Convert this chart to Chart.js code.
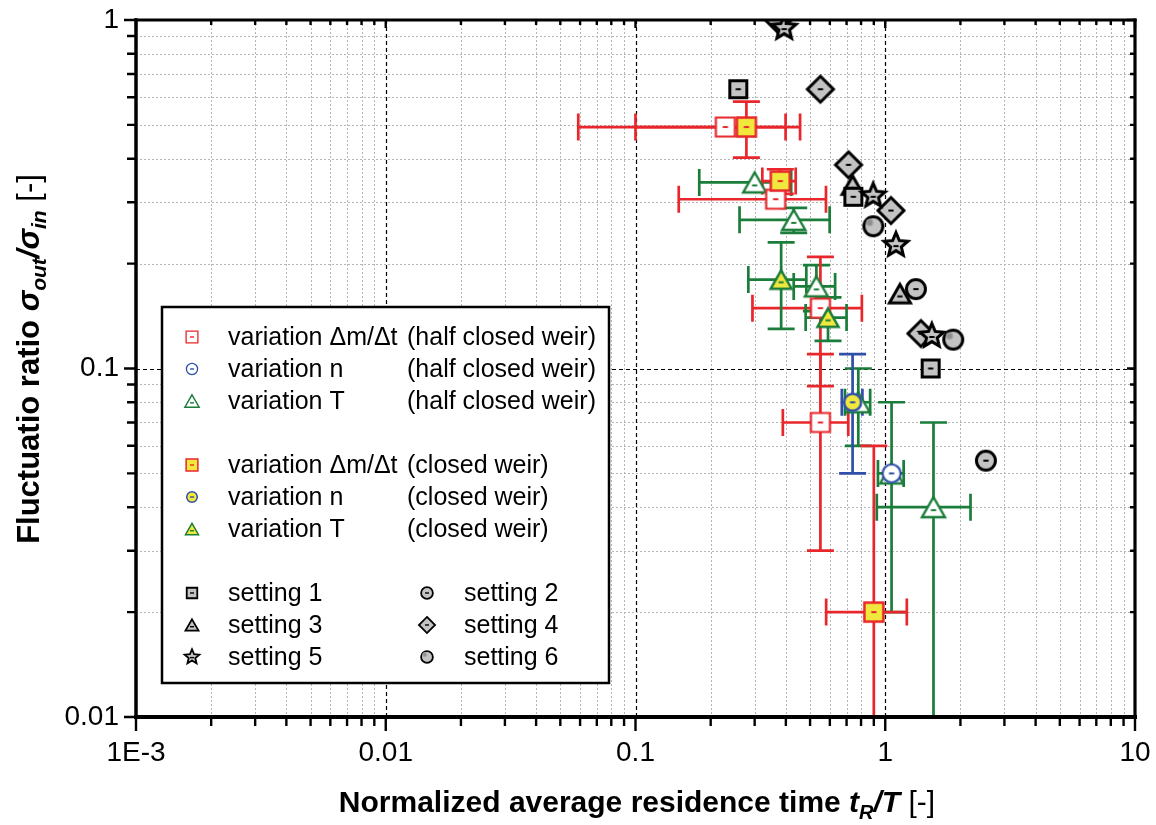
<!DOCTYPE html>
<html>
<head>
<meta charset="utf-8">
<script src="https://cdn.jsdelivr.net/npm/chart.js@4.4.1/dist/chart.umd.min.js"></script>
<style>
  html, body { margin: 0; padding: 0; background: #fff; }
  #wrap { width: 1156px; height: 825px; position: relative; }
</style>
</head>
<body>
<div id="wrap"><canvas id="chart" width="1156" height="825"></canvas></div>
<script>
// ---- measured series: x = tR/T, y = sigma_out/sigma_in, symmetric error half-widths ----
const dmHalfX    = [0.229, 0.364, 0.55, 0.55];
const dmHalfY    = [0.493, 0.306, 0.149, 0.070];
const dmHalfXErr = [0.17, 0.215, 0.256, 0.161];
const dmHalfYErr = [0, 0, 0.06, 0.04];

const nHalfX    = [1.06];
const nHalfY    = [0.05];
const nHalfXErr = [0];
const nHalfYErr = [0];

const tHalfX    = [0.30, 0.43, 0.53, 0.78, 1.06, 1.56];
const tHalfY    = [0.342, 0.267, 0.172, 0.08, 0.05, 0.04];
const tHalfXErr = [0.12, 0.169, 0.10, 0.09, 0.125, 0.635];
const tHalfYErr = [0, 0.022, 0.026, 0.02, 0.03, 0.03];

const dmClosedX    = [0.278, 0.38, 0.90];
const dmClosedY    = [0.493, 0.345, 0.02];
const dmClosedXErr = [0.178, 0.058, 0.32];
const dmClosedYErr = [0.09, 0.028, 0.04];

const nClosedX    = [0.74];
const nClosedY    = [0.08];
const nClosedXErr = [0.07];
const nClosedYErr = [0.03];

const tClosedX    = [0.383, 0.59];
const tClosedY    = [0.18, 0.14];
const tClosedXErr = [0.10, 0.11];
const tClosedYErr = [0.05, 0.02];

// reference settings (no error bars)
const s1X = [0.258, 0.745, 1.52];          const s1Y = [0.633, 0.311, 0.100];
const s2X = [1.327, 2.53];                 const s2Y = [0.169, 0.0544];
const s3X = [0.740, 1.145];                const s3Y = [0.336, 0.164];
const s4X = [0.373, 0.550, 0.713, 1.054, 1.389]; const s4Y = [1.0, 0.633, 0.384, 0.284, 0.126];
const s5X = [0.394, 0.895, 1.104, 1.537];  const s5Y = [0.948, 0.313, 0.226, 0.124];
const s6X = [0.896, 1.871];                const s6Y = [0.256, 0.121];

// axis ticks
const xTickValues = [0.001, 0.01, 0.1, 1, 10];
const xTickLabels = ['1E-3', '0.01', '0.1', '1', '10'];
const yTickValues = [0.01, 0.1, 1];
const yTickLabels = ['0.01', '0.1', '1'];

// ---- styling ----
const FONT = '"Liberation Sans", Arial, Helvetica, sans-serif';
const RED = '#e8262b', GREEN = '#1b7d3a', BLUE = '#2f4fa8', YELLOW = '#f0e83c', GREY = '#c3c3c3';

const markerSpecs = {
  dmHalf:   { shape: 'square',   size: 19, fill: '#fff',  stroke: RED,   lw: 2.2 },
  nHalf:    { shape: 'circle',   size: 18, fill: '#fff',  stroke: BLUE,  lw: 2.2 },
  tHalf:    { shape: 'triangle', size: 23, fill: '#fff',  stroke: GREEN, lw: 2.4 },
  dmClosed: { shape: 'square',   size: 19, fill: YELLOW,  stroke: RED,   lw: 2.5 },
  nClosed:  { shape: 'circle',   size: 17, fill: YELLOW,  stroke: BLUE,  lw: 2.5 },
  tClosed:  { shape: 'triangle', size: 21, fill: YELLOW,  stroke: GREEN, lw: 2.5 },
  s1: { shape: 'square',   size: 17, fill: GREY, stroke: '#000', lw: 3 },
  s2: { shape: 'circle',   size: 19, fill: GREY, stroke: '#000', lw: 3 },
  s3: { shape: 'triangle', size: 21, fill: GREY, stroke: '#000', lw: 3 },
  s4: { shape: 'diamond',  size: 26, fill: GREY, stroke: '#000', lw: 3 },
  s5: { shape: 'star',     size: 25, fill: GREY, stroke: '#000', lw: 3 },
  s6: { shape: 'circle',   size: 19, fill: GREY, stroke: '#000', lw: 3, highlight: true }
};

function makeMarker(spec, scale) {
  const h = spec.size * scale / 2;
  const lw = spec.lw * (scale < 1 ? 0.6 : 1);
  let ext = Math.ceil(spec.size * scale + lw * 2 + 10);
  if (ext % 2) ext++;
  const cv = document.createElement('canvas');
  cv.width = ext; cv.height = ext;
  const c = cv.getContext('2d');
  c.translate(ext / 2, ext / 2);
  c.beginPath();
  let dashY = 0;
  switch (spec.shape) {
    case 'square': c.rect(-h, -h, 2 * h, 2 * h); break;
    case 'circle': c.arc(0, 0, h, 0, Math.PI * 2); break;
    case 'triangle': {
      const hh = h * 0.87;
      c.moveTo(0, -hh); c.lineTo(h, hh); c.lineTo(-h, hh); c.closePath();
      dashY = hh * 0.3;
      break;
    }
    case 'diamond':
      c.moveTo(0, -h); c.lineTo(h, 0); c.lineTo(0, h); c.lineTo(-h, 0); c.closePath();
      break;
    case 'star':
      for (let i = 0; i < 10; i++) {
        const a = -Math.PI / 2 + i * Math.PI / 5;
        const r = (i % 2) ? h * 0.45 : h;
        c.lineTo(r * Math.cos(a), r * Math.sin(a));
      }
      c.closePath();
      dashY = h * 0.08;
      break;
  }
  c.fillStyle = spec.fill;
  c.fill();
  c.lineJoin = 'miter';
  c.miterLimit = 4;
  c.lineWidth = lw;
  c.strokeStyle = spec.stroke;
  c.stroke();
  if (spec.highlight) {
    c.beginPath();
    c.arc(-h * 0.38, -h * 0.38, h * 0.36, 0, Math.PI * 2);
    c.fillStyle = '#8f8f8f';
    c.fill();
    c.lineWidth = 1;
    c.strokeStyle = '#b0b0b0';
    c.stroke();
  } else {
    const dl = Math.max(2, 2.6 * scale);
    c.beginPath();
    c.moveTo(-dl, dashY); c.lineTo(dl, dashY);
    c.lineWidth = scale < 1 ? 1.4 : 2;
    c.strokeStyle = spec.stroke;
    c.stroke();
  }
  return cv;
}

const plotMarkers = {}, legendMarkers = {};
Object.keys(markerSpecs).forEach(k => {
  plotMarkers[k] = makeMarker(markerSpecs[k], 1);
  legendMarkers[k] = makeMarker(markerSpecs[k], 0.62);
});

function pts(xs, ys) { return xs.map((x, i) => ({ x: x, y: ys[i] })); }

function series(key, label, xs, ys, ex, ey, errColor) {
  return {
    key: key, label: label,
    data: pts(xs, ys),
    errX: ex, errY: ey, errColor: errColor,
    pointStyle: plotMarkers[key],
    pointRadius: 11, pointHoverRadius: 11,
    clip: 0
  };
}

// listed bottom-to-top; Chart.js paints the first dataset last, so the list is reversed
const datasets = [
  series('tHalf', 'variation T (half closed weir)', tHalfX, tHalfY, tHalfXErr, tHalfYErr, GREEN),
  series('dmHalf', 'variation \u0394m/\u0394t (half closed weir)', dmHalfX, dmHalfY, dmHalfXErr, dmHalfYErr, RED),
  series('nHalf', 'variation n (half closed weir)', nHalfX, nHalfY, nHalfXErr, nHalfYErr, BLUE),
  series('tClosed', 'variation T (closed weir)', tClosedX, tClosedY, tClosedXErr, tClosedYErr, GREEN),
  series('dmClosed', 'variation \u0394m/\u0394t (closed weir)', dmClosedX, dmClosedY, dmClosedXErr, dmClosedYErr, RED),
  series('nClosed', 'variation n (closed weir)', nClosedX, nClosedY, nClosedXErr, nClosedYErr, BLUE),
  series('s3', 'setting 3', s3X, s3Y),
  series('s1', 'setting 1', s1X, s1Y),
  series('s2', 'setting 2', s2X, s2Y),
  series('s4', 'setting 4', s4X, s4Y),
  series('s5', 'setting 5', s5X, s5Y),
  series('s6', 'setting 6', s6X, s6Y)
].reverse();

function decadeValues(minExp, maxExp) {
  const minor = [], major = [];
  for (let d = minExp; d <= maxExp; d++) {
    major.push(Math.pow(10, d));
    if (d < maxExp) for (let k = 2; k <= 9; k++) minor.push(k * Math.pow(10, d));
  }
  return { minor, major };
}
const xLines = decadeValues(-3, 1);
const yLines = decadeValues(-2, 0);

// dotted minor grid and dashed decade grid inside the plot
const gridPlugin = {
  id: 'logGrid',
  beforeDatasetsDraw(chart) {
    const { ctx, chartArea: a, scales: { x, y } } = chart;
    ctx.save();
    ctx.lineWidth = 1;
    ctx.strokeStyle = '#b4b4b4';
    ctx.setLineDash([2, 2]);
    ctx.beginPath();
    xLines.minor.forEach(v => { const p = Math.round(x.getPixelForValue(v)) + 0.5; ctx.moveTo(p, a.top); ctx.lineTo(p, a.bottom); });
    yLines.minor.forEach(v => { const p = Math.round(y.getPixelForValue(v)) + 0.5; ctx.moveTo(a.left, p); ctx.lineTo(a.right, p); });
    ctx.stroke();
    ctx.strokeStyle = '#000';
    ctx.lineWidth = 1.2;
    ctx.setLineDash([4, 3]);
    ctx.beginPath();
    xLines.major.slice(1, -1).forEach(v => { const p = Math.round(x.getPixelForValue(v)) + 0.5; ctx.moveTo(p, a.top); ctx.lineTo(p, a.bottom); });
    yLines.major.slice(1, -1).forEach(v => { const p = Math.round(y.getPixelForValue(v)) + 0.5; ctx.moveTo(a.left, p); ctx.lineTo(a.right, p); });
    ctx.stroke();
    ctx.restore();
  }
};

// symmetric error bars with caps, beneath all markers (drawn in list order)
const errorBarPlugin = {
  id: 'errorBars',
  beforeDatasetsDraw(chart) {
    const { ctx, chartArea: a, scales: { x: xs, y: ys } } = chart;
    const cap = 13.5;
    ctx.save();
    ctx.beginPath();
    ctx.rect(a.left, a.top, a.right - a.left, a.bottom - a.top);
    ctx.clip();
    ctx.lineWidth = 2.7;
    ctx.lineCap = 'butt';
    ctx.setLineDash([]);
    chart.data.datasets.slice().reverse().forEach(ds => {
      if (!ds.errX) return;
      ctx.strokeStyle = ds.errColor;
      ds.data.forEach((p, i) => {
        const px = xs.getPixelForValue(p.x), py = ys.getPixelForValue(p.y);
        const dx = ds.errX[i], dy = ds.errY[i];
        ctx.beginPath();
        if (dx > 0) {
          const lo = p.x - dx, hi = p.x + dx;
          const l = lo > 0 ? xs.getPixelForValue(lo) : a.left;
          const r = xs.getPixelForValue(hi);
          ctx.moveTo(l, py); ctx.lineTo(r, py);
          if (lo > 0) { ctx.moveTo(l, py - cap); ctx.lineTo(l, py + cap); }
          ctx.moveTo(r, py - cap); ctx.lineTo(r, py + cap);
        }
        if (dy > 0) {
          const lo = p.y - dy, hi = p.y + dy;
          const b = lo > 0 ? ys.getPixelForValue(lo) : a.bottom + 5;
          const t = ys.getPixelForValue(hi);
          ctx.moveTo(px, b); ctx.lineTo(px, t);
          if (lo > 0) { ctx.moveTo(px - cap, b); ctx.lineTo(px + cap, b); }
          ctx.moveTo(px - cap, t); ctx.lineTo(px + cap, t);
        }
        ctx.stroke();
      });
    });
    ctx.restore();
  }
};

// heavy frame with outward ticks on bottom/left and small inward ticks on top/right
const framePlugin = {
  id: 'frame',
  afterDatasetsDraw(chart) {
    const { ctx, chartArea: a, scales: { x, y } } = chart;
    ctx.save();
    ctx.setLineDash([]);
    ctx.strokeStyle = '#000';
    ctx.lineWidth = 2.4;
    ctx.beginPath();
    xLines.minor.forEach(v => {
      const p = x.getPixelForValue(v);
      ctx.moveTo(p, a.bottom); ctx.lineTo(p, a.bottom + 9);
      ctx.moveTo(p, a.top); ctx.lineTo(p, a.top + 5);
    });
    xLines.major.forEach(v => {
      const p = x.getPixelForValue(v);
      ctx.moveTo(p, a.bottom); ctx.lineTo(p, a.bottom + 14);
      ctx.moveTo(p, a.top); ctx.lineTo(p, a.top + 8);
    });
    yLines.minor.forEach(v => {
      const p = y.getPixelForValue(v);
      ctx.moveTo(a.left, p); ctx.lineTo(a.left - 9, p);
      ctx.moveTo(a.right, p); ctx.lineTo(a.right - 5, p);
    });
    yLines.major.forEach(v => {
      const p = y.getPixelForValue(v);
      ctx.moveTo(a.left, p); ctx.lineTo(a.left - 12, p);
      ctx.moveTo(a.right, p); ctx.lineTo(a.right - 8, p);
    });
    ctx.stroke();
    ctx.lineCap = 'square';
    ctx.lineWidth = 3.5;
    ctx.beginPath(); ctx.moveTo(a.left, a.top); ctx.lineTo(a.left, a.bottom); ctx.stroke();
    ctx.lineWidth = 4;
    ctx.beginPath(); ctx.moveTo(a.left, a.bottom); ctx.lineTo(a.right, a.bottom); ctx.stroke();
    ctx.lineWidth = 3.2;
    ctx.beginPath(); ctx.moveTo(a.left, a.top); ctx.lineTo(a.right, a.top); ctx.stroke();
    ctx.beginPath(); ctx.moveTo(a.right, a.top); ctx.lineTo(a.right, a.bottom); ctx.stroke();
    ctx.restore();
  }
};

function drawRich(ctx, segs, x, y) {
  const widths = segs.map(s => { ctx.font = s.font; return ctx.measureText(s.t).width; });
  const total = widths.reduce((p, w) => p + w, 0);
  let cx = x - total / 2;
  segs.forEach((s, i) => {
    ctx.font = s.font;
    ctx.fillText(s.t, cx, y + (s.dy || 0));
    cx += widths[i];
  });
}

// axis titles with italic symbols and subscripts
const titlePlugin = {
  id: 'axisTitles',
  afterDraw(chart) {
    const { ctx } = chart;
    ctx.save();
    ctx.fillStyle = '#000';
    ctx.textBaseline = 'alphabetic';
    ctx.textAlign = 'left';
    drawRich(ctx, [
      { t: 'Normalized average residence time ', font: 'bold 30px ' + FONT },
      { t: 't', font: 'italic bold 30px ' + FONT },
      { t: 'R', font: 'italic bold 20px ' + FONT, dy: 7 },
      { t: '/T', font: 'italic bold 30px ' + FONT },
      { t: ' [-]', font: '30px ' + FONT }
    ], 637, 812);
    ctx.translate(39, 359);
    ctx.rotate(-Math.PI / 2);
    drawRich(ctx, [
      { t: 'Fluctuatio ratio ', font: 'bold 31px ' + FONT },
      { t: '\u03c3', font: 'italic bold 31px ' + FONT },
      { t: 'out', font: 'italic bold 21px ' + FONT, dy: 7 },
      { t: '/\u03c3', font: 'italic bold 31px ' + FONT },
      { t: 'in', font: 'italic bold 21px ' + FONT, dy: 7 },
      { t: ' [-]', font: '31px ' + FONT }
    ], 0, 0);
    ctx.restore();
  }
};

// boxed legend: three experiment groups and a two-column block of settings
const legendRows = [
  { key: 'dmHalf',   a: 'variation \u0394m/\u0394t', b: '(half closed weir)', y: 337 },
  { key: 'nHalf',    a: 'variation n',               b: '(half closed weir)', y: 369 },
  { key: 'tHalf',    a: 'variation T',               b: '(half closed weir)', y: 401 },
  { key: 'dmClosed', a: 'variation \u0394m/\u0394t', b: '(closed weir)',      y: 465 },
  { key: 'nClosed',  a: 'variation n',               b: '(closed weir)',      y: 497 },
  { key: 'tClosed',  a: 'variation T',               b: '(closed weir)',      y: 529 }
];
const legendSettings = [
  { key: 's1', a: 'setting 1', col: 0, y: 593 }, { key: 's2', a: 'setting 2', col: 1, y: 593 },
  { key: 's3', a: 'setting 3', col: 0, y: 625 }, { key: 's4', a: 'setting 4', col: 1, y: 625 },
  { key: 's5', a: 'setting 5', col: 0, y: 657 }, { key: 's6', a: 'setting 6', col: 1, y: 657 }
];
const legendPlugin = {
  id: 'boxLegend',
  afterDraw(chart) {
    const { ctx } = chart;
    ctx.save();
    ctx.fillStyle = '#fff';
    ctx.fillRect(162, 307, 447, 376);
    ctx.lineWidth = 2.5;
    ctx.strokeStyle = '#000';
    ctx.strokeRect(162, 307, 447, 376);
    ctx.font = '25px ' + FONT;
    ctx.fillStyle = '#000';
    ctx.textBaseline = 'middle';
    ctx.textAlign = 'left';
    const put = (key, mx, my) => {
      const m = legendMarkers[key];
      ctx.drawImage(m, Math.round(mx - m.width / 2), Math.round(my - m.height / 2));
    };
    legendRows.forEach(r => {
      put(r.key, 192, r.y);
      ctx.fillText(r.a, 228, r.y + 1);
      ctx.fillText(r.b, 407, r.y + 1);
    });
    legendSettings.forEach(r => {
      const mx = r.col ? 427 : 192, tx = r.col ? 464 : 228;
      put(r.key, mx, r.y);
      ctx.fillText(r.a, tx, r.y + 1);
    });
    ctx.restore();
  }
};

new Chart(document.getElementById('chart'), {
  type: 'scatter',
  data: { datasets: datasets },
  options: {
    responsive: false,
    animation: false,
    devicePixelRatio: 1,
    events: [],
    layout: { padding: { left: 0, top: 20, right: 21, bottom: 0 } },
    plugins: { legend: { display: false }, tooltip: { enabled: false } },
    scales: {
      x: {
        type: 'logarithmic', position: 'bottom', min: 0.001, max: 10,
        afterBuildTicks: s => { s.ticks = xTickValues.map(v => ({ value: v })); },
        afterFit: s => { s.height = 108; s.paddingLeft = 0; s.paddingRight = 0; },
        grid: { display: false, drawTicks: false },
        border: { display: false },
        ticks: {
          autoSkip: false, maxRotation: 0, padding: 19, color: '#000',
          font: { family: FONT, size: 28 },
          callback: (v, i) => xTickLabels[i]
        }
      },
      y: {
        type: 'logarithmic', position: 'left', min: 0.01, max: 1,
        afterBuildTicks: s => { s.ticks = yTickValues.map(v => ({ value: v })); },
        afterFit: s => { s.width = 136; s.paddingTop = 0; s.paddingBottom = 0; },
        grid: { display: false, drawTicks: false },
        border: { display: false },
        ticks: {
          autoSkip: false, padding: 17, color: '#000',
          font: { family: FONT, size: 28 },
          callback: (v, i) => yTickLabels[i]
        }
      }
    }
  },
  plugins: [gridPlugin, errorBarPlugin, framePlugin, titlePlugin, legendPlugin]
});
</script>
</body>
</html>
